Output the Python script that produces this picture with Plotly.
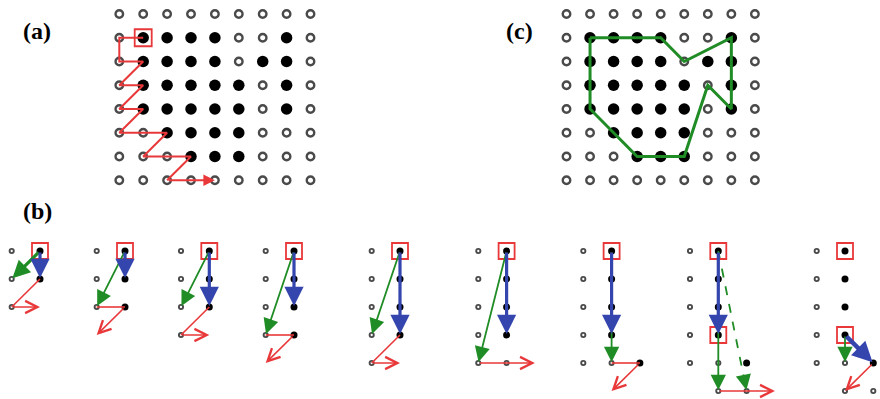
import plotly.graph_objects as go

# ---------------- data ----------------
# lattice occupancy (1 = filled object pixel, 0 = empty), shared by panels (a) and (c)
GRID = [
    "000000000",
    "011110010",
    "011110110",
    "011111010",
    "011111010",
    "001111000",
    "000111000",
    "000000000",
]
# (col, row) lattice indices
A_START = [(1, 1)]
A_RED_PATH = [(1, 1), (0, 1), (0, 2), (1, 2), (0, 3), (1, 3), (0, 4), (1, 4),
              (0, 5), (2, 5), (1, 6), (3, 6), (2, 7), (4, 7)]
C_GREEN_POLY = [(1, 1), (4, 1), (5, 2), (7, 1), (7, 4), (6, 3), (5, 6), (3, 6), (1, 4), (1, 1)]

LABELS = ["(a)", "(b)", "(c)"]

# panel (b): nine steps; col 0 = left, 1 = right, 2/3 = further right; rows downwards
B_EMPTY = [
    [(0, 0), (0, 1), (0, 2)],
    [(0, 0), (0, 1), (0, 2)],
    [(0, 0), (0, 1), (0, 2), (0, 3)],
    [(0, 0), (0, 1), (0, 2), (0, 3)],
    [(0, 0), (0, 1), (0, 2), (0, 3), (0, 4)],
    [(0, 0), (0, 1), (0, 2), (0, 3), (0, 4), (1, 4)],
    [(0, 0), (0, 1), (0, 2), (0, 3), (0, 4), (1, 4)],
    [(0, 0), (0, 1), (0, 2), (0, 3), (0, 4), (1, 4), (1, 5), (2, 5)],
    [(0, 0), (0, 1), (0, 2), (0, 3), (0, 4), (1, 4), (1, 5), (2, 5)],
]
B_FILLED = [
    [(1, 0), (1, 1)],
    [(1, 0), (1, 1), (1, 2)],
    [(1, 0), (1, 1), (1, 2)],
    [(1, 0), (1, 1), (1, 2), (1, 3)],
    [(1, 0), (1, 1), (1, 2), (1, 3)],
    [(1, 0), (1, 1), (1, 2), (1, 3)],
    [(1, 0), (1, 1), (1, 2), (1, 3), (2, 4)],
    [(1, 0), (1, 1), (1, 2), (1, 3), (2, 4)],
    [(1, 0), (1, 1), (1, 2), (1, 3), (2, 4)],
]
B_SQUARES = [
    [(1, 0)], [(1, 0)], [(1, 0)], [(1, 0)], [(1, 0)], [(1, 0)], [(1, 0)],
    [(1, 0), (1, 3)], [(1, 0), (1, 3)],
]
B_BLUE = [
    [(1, 0), (1, 1)], [(1, 0), (1, 1)], [(1, 0), (1, 2)], [(1, 0), (1, 2)],
    [(1, 0), (1, 3)], [(1, 0), (1, 3)], [(1, 0), (1, 3)], [(1, 0), (1, 3)],
    [(1, 3), (2, 4)],
]
B_GREEN = [
    [(1, 0), (0, 1)], [(1, 0), (0, 2)], [(1, 0), (0, 2)], [(1, 0), (0, 3)],
    [(1, 0), (0, 3)], [(1, 0), (0, 4)], [(1, 0), (1, 4)], [(1, 0), (1, 5)],
    [(1, 3), (1, 4)],
]
B_GREEN_DASH = [None, None, None, None, None, None, None, [(1, 0), (2, 5)], None]
B_RED = [
    [(1, 1), (0, 2), (1, 2)],
    [(0, 2), (1, 2), (0, 3)],
    [(1, 2), (0, 3), (1, 3)],
    [(0, 3), (1, 3), (0, 4)],
    [(1, 3), (0, 4), (1, 4)],
    [(0, 4), (2, 4)],
    [(1, 4), (2, 4), (1, 5)],
    [(1, 5), (3, 5)],
    [(2, 4), (1, 5)],
]

# ---------------- layout constants (pixels) ----------------
W, H = 880, 399
A_X0, A_DX, A_Y0, A_DY = 119.3, 23.9, 14.0, 23.75
C_X0, C_DX, C_Y0, C_DY = 566.5, 23.55, 14.0, 23.75
B_LEFT = [11.7, 96.7, 181.0, 265.7, 371.7, 478.3, 583.3, 690.0, 816.7]
B_DX, B_Y0, B_DY = 28.3, 251.0, 28.0

RED = "#e8383a"
GREEN = "#1f8c25"
BLUE = "#3445ae"
GREY = "#4a4a4a"

fig = go.Figure()
annotations = []
shapes = []


def lattice(x0, dx, y0, dy):
    return lambda c, r: (x0 + c * dx, y0 + r * dy)


def add_points(pts, pos, filled, big):
    xs = [pos(c, r)[0] for c, r in pts]
    ys = [pos(c, r)[1] for c, r in pts]
    if filled:
        marker = dict(size=11.5 if big else 7, color="black", line=dict(width=0))
    else:
        marker = dict(size=7.5 if big else 4.2, color="rgba(0,0,0,0)",
                      line=dict(width=2.4 if big else 1.9, color=GREY))
    fig.add_trace(go.Scatter(x=xs, y=ys, mode="markers", marker=marker,
                             hoverinfo="skip", showlegend=False))


def add_line(pts, pos, color, width, dash="solid"):
    fig.add_trace(go.Scatter(x=[pos(c, r)[0] for c, r in pts],
                             y=[pos(c, r)[1] for c, r in pts],
                             mode="lines", line=dict(color=color, width=width, dash=dash),
                             hoverinfo="skip", showlegend=False))


def add_arrow(p_from, p_to, color, width, head, size, standoff=0):
    annotations.append(dict(x=p_to[0], y=p_to[1], ax=p_from[0], ay=p_from[1],
                            xref="x", yref="y", axref="x", ayref="y", text="",
                            showarrow=True, arrowcolor=color, arrowwidth=width,
                            arrowhead=head, arrowsize=size, standoff=standoff))


def add_square(p, half, width):
    shapes.append(dict(type="rect", xref="x", yref="y",
                       x0=p[0] - half, x1=p[0] + half, y0=p[1] - half, y1=p[1] + half,
                       line=dict(color=RED, width=width), fillcolor="rgba(0,0,0,0)"))


# ---- panels (a) and (c) ----
for pos in (lattice(A_X0, A_DX, A_Y0, A_DY), lattice(C_X0, C_DX, C_Y0, C_DY)):
    empty = [(c, r) for r, row in enumerate(GRID) for c, v in enumerate(row) if v == "0"]
    full = [(c, r) for r, row in enumerate(GRID) for c, v in enumerate(row) if v == "1"]
    add_points(empty, pos, False, True)
    add_points(full, pos, True, True)

posA = lattice(A_X0, A_DX, A_Y0, A_DY)
add_line(A_RED_PATH[:-1], posA, RED, 2)
add_arrow(posA(*A_RED_PATH[-2]), posA(*A_RED_PATH[-1]), RED, 2, 2, 1.15)
for p in A_START:
    add_square(posA(*p), 8.5, 1.8)

posC = lattice(C_X0, C_DX, C_Y0, C_DY)
add_line(C_GREEN_POLY, posC, GREEN, 3)

# ---- panel (b) ----
for i, x0 in enumerate(B_LEFT):
    pos = lattice(x0, B_DX, B_Y0, B_DY)
    add_points(B_EMPTY[i], pos, False, False)
    add_points(B_FILLED[i], pos, True, False)
    for p in B_SQUARES[i]:
        add_square(pos(*p), 8, 1.8)
    # red path
    red = B_RED[i]
    if len(red) > 2:
        add_line(red[:-1], pos, RED, 1.6)
    add_arrow(pos(*red[-2]), pos(*red[-1]), RED, 1.6, 5, 1.5)
    # dashed green
    if B_GREEN_DASH[i] is not None:
        a, b = B_GREEN_DASH[i]
        pa, pb = pos(*a), pos(*b)
        add_line([a, b], pos, GREEN, 1.8, "dash")
        t = 0.9
        add_arrow((pa[0] + (pb[0] - pa[0]) * t, pa[1] + (pb[1] - pa[1]) * t), pb,
                  GREEN, 1.8, 2, 1.7, standoff=1)
    # green
    a, b = B_GREEN[i]
    gw = 3.2 if i == 0 else 1.8
    add_arrow(pos(*a), pos(*b), GREEN, gw, 2, 1.1 if i == 0 else 1.7, standoff=1)
    # blue
    a, b = B_BLUE[i]
    bw = 4.5 if i == 8 else 3.2
    add_arrow(pos(*a), pos(*b), BLUE, bw, 2, 0.9 if i == 8 else 1.2, standoff=1)

# ---- labels ----
label_pos = [(37, 31), (37, 211), (519, 31)]
for txt, (x, y) in zip(LABELS, label_pos):
    annotations.append(dict(x=x, y=y, xref="x", yref="y", text="<b>%s</b>" % txt,
                            showarrow=False, xanchor="center", yanchor="middle",
                            font=dict(family="Liberation Serif", size=24, color="black")))

fig.update_layout(
    width=W, height=H, margin=dict(l=0, r=0, t=0, b=0),
    paper_bgcolor="white", plot_bgcolor="white",
    xaxis=dict(range=[0, W], visible=False, fixedrange=True),
    yaxis=dict(range=[H, 0], visible=False, fixedrange=True),
    annotations=annotations, shapes=shapes, showlegend=False,
)
fig.write_html("out.html", config={"displayModeBar": False, "staticPlot": True},
               post_script="document.body.style.margin='0';document.body.style.overflow='hidden';")
